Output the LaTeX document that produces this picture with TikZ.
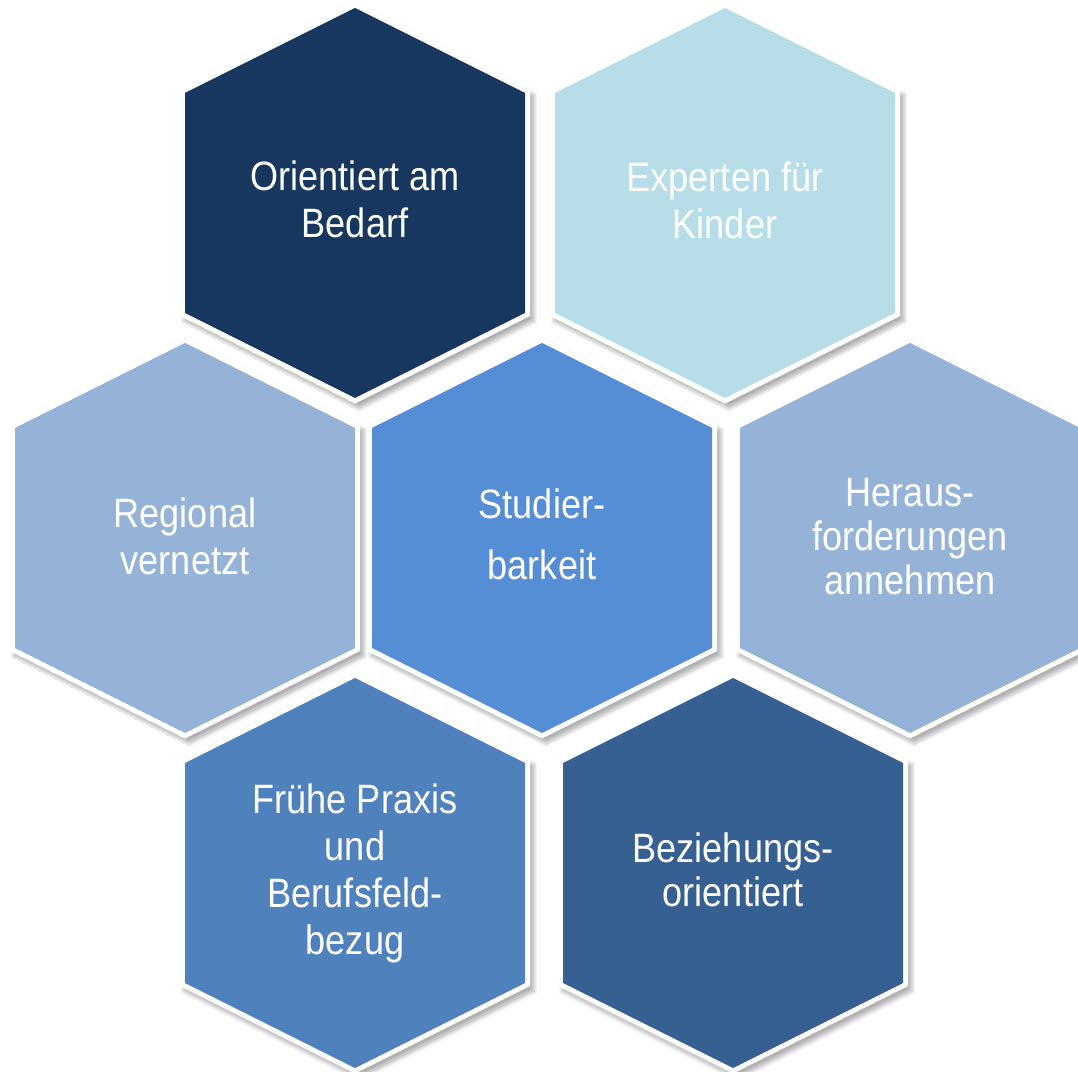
\documentclass[tikz,border=0pt]{standalone}
\usepackage{fontspec}
\setmainfont{Liberation Sans}[FakeStretch=0.88]
\definecolor{cA}{HTML}{17375E}
\definecolor{cB}{HTML}{B7DEE8}
\definecolor{cC}{HTML}{95B3D7}
\definecolor{cD}{HTML}{558ED5}
\definecolor{cE}{HTML}{95B3D7}
\definecolor{cF}{HTML}{4F81BD}
\definecolor{cG}{HTML}{376092}
% hexagon: half width 170, half side 110, half height 195, grown outward by #1
\newcommand\hexshape[1]{(0,{195+1.118*#1}) -- ({-170-#1},{110+0.618*#1}) -- ({-170-#1},{-110-0.618*#1}) -- (0,{-195-1.118*#1}) -- ({170+#1},{-110-0.618*#1}) -- ({170+#1},{110+0.618*#1}) -- cycle}
\begin{document}
\begin{tikzpicture}[x=1pt,y=1pt,
  txt/.style={text=white,align=center,inner sep=0pt,font=\fontsize{41}{47}\selectfont}]
\useasboundingbox[fill=white] (0,0) rectangle (1078,1071);
% shadows
\foreach \x/\y in {355/868,725/868,185/533,542/533,910/533,355/198,733/198}{
  \begin{scope}[shift={(\x+4,\y-5)}]
    \foreach \k in {1,...,8}{
      \fill[black,opacity=0.045] \hexshape{\k};
    }
  \end{scope}
}
% hexagons
\foreach \x/\y/\c in {355/868/cA,725/868/cB,185/533/cC,542/533/cD,910/533/cE,355/198/cF,733/198/cG}{
  \begin{scope}[shift={(\x,\y)}]
    \fill[white] \hexshape{5};
    \fill[\c] \hexshape{0};
  \end{scope}
}
\node[txt] (t1) at (355,872) {Orientiert am\\Bedarf};
\node[txt] (t2) at (725,871) {Experten für\\Kinder};
\node[txt] (t3) at (185,535) {Regional\\vernetzt};
\node[txt] (t4) at (542,537) {Studier-\\[14pt]barkeit};
\node[txt] (t5) at (910,534) {Heraus-\\[-3pt]forderungen\\[-3pt]annehmen};
\node[txt] (t6) at (355,198) {Frühe Praxis\\und\\Berufsfeld-\\bezug};
\node[txt] (t7) at (733,201) {Beziehungs-\\[-3pt]orientiert};
\end{tikzpicture}
\end{document}
